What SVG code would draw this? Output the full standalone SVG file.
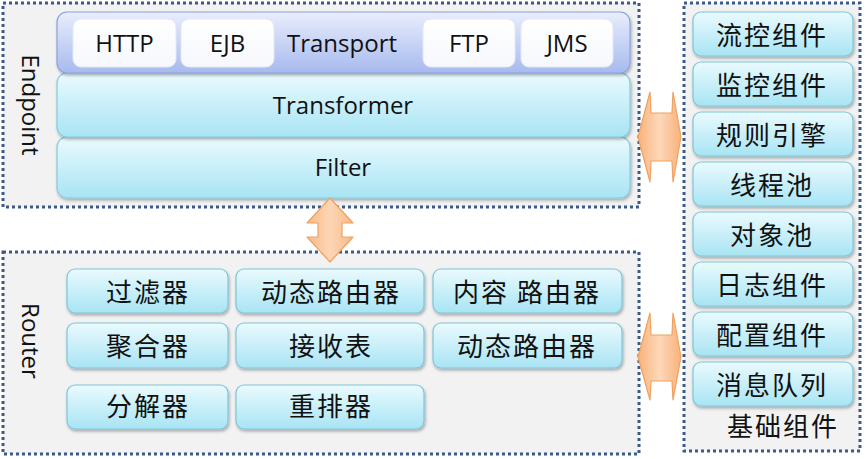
<svg xmlns="http://www.w3.org/2000/svg" width="866" height="459" viewBox="0 0 866 459">
<defs>
<linearGradient id="gCyan" x1="0" y1="0" x2="0" y2="1">
<stop offset="0" stop-color="#eafafe"/>
<stop offset="1" stop-color="#a8e4f4"/>
</linearGradient>
<linearGradient id="gBlue" x1="0" y1="0" x2="0" y2="1">
<stop offset="0" stop-color="#e9eefc"/>
<stop offset="1" stop-color="#a7baee"/>
</linearGradient>
<linearGradient id="gWhite" x1="0" y1="0" x2="0" y2="1">
<stop offset="0" stop-color="#ffffff"/>
<stop offset="1" stop-color="#f6f8fd"/>
</linearGradient>
<linearGradient id="gOrangeH" x1="0" y1="0" x2="1" y2="0">
<stop offset="0" stop-color="#f8b27a"/>
<stop offset="0.5" stop-color="#fdd8ba"/>
<stop offset="1" stop-color="#f8b27a"/>
</linearGradient>
<linearGradient id="gOrangeV" x1="0" y1="0" x2="1" y2="0">
<stop offset="0" stop-color="#f9b985"/>
<stop offset="0.5" stop-color="#fdd6b6"/>
<stop offset="1" stop-color="#f9b985"/>
</linearGradient>
<filter id="sh" x="-10%" y="-20%" width="120%" height="150%">
<feDropShadow dx="1" dy="2" stdDeviation="1.5" flood-color="#000" flood-opacity="0.3"/>
</filter>
</defs>
<style>
.cont{fill:#f2f2f2;stroke:#3b5a8a;stroke-width:3;stroke-dasharray:3 3}
.box{fill:url(#gCyan);stroke:#7fc5d8;stroke-width:1.2;filter:url(#sh)}
.bar{fill:url(#gCyan);stroke:#86cadc;stroke-width:1.2;filter:url(#sh)}
.tbar{fill:url(#gBlue);stroke:#8aa2de;stroke-width:1.2;filter:url(#sh)}
.wbox{fill:url(#gWhite);stroke:#e3e8f6;stroke-width:1}
.en{font-family:"Open Sans","Noto Sans","Liberation Sans",sans-serif;font-size:24px;fill:#111;text-anchor:middle}
.zh{font-family:"Noto Sans CJK SC","Noto Sans",sans-serif;font-size:26px;letter-spacing:2px;fill:#111;text-anchor:middle}
.arr{stroke:#f0a160;stroke-width:1.2;stroke-linejoin:round}
</style>

<g id="endpoint">
<rect class="cont" x="3" y="3" width="636" height="204"/>
<text class="en" transform="translate(30,105) rotate(90)" x="0" y="8.5">Endpoint</text>
<g id="filter">
<rect class="bar" x="57" y="137" width="573" height="61" rx="10"/>
<text class="en" x="343" y="176">Filter</text>
</g>
<g id="transformer">
<rect class="bar" x="57" y="73" width="573" height="64" rx="10"/>
<text class="en" x="343" y="114">Transformer</text>
</g>
<g id="transport">
<rect class="tbar" x="57" y="12" width="573" height="61" rx="10"/>
<text class="en" x="342" y="52">Transport</text>
<g id="http"><rect class="wbox" x="73" y="19" width="103" height="48" rx="8"/><text class="en" x="124.5" y="52">HTTP</text></g>
<g id="ejb"><rect class="wbox" x="181" y="19" width="93" height="48" rx="8"/><text class="en" x="227.5" y="52">EJB</text></g>
<g id="ftp"><rect class="wbox" x="423" y="19" width="92" height="48" rx="8"/><text class="en" x="469" y="52">FTP</text></g>
<g id="jms"><rect class="wbox" x="521" y="19" width="92" height="48" rx="8"/><text class="en" x="567" y="52">JMS</text></g>
</g>
</g>

<g id="router">
<rect class="cont" x="3" y="252" width="636" height="202"/>
<text class="en" transform="translate(30,341) rotate(90)" x="0" y="8.5">Router</text>
<g id="r-guolvqi"><rect class="box" x="67" y="269" width="161" height="44" rx="8"/><text class="zh" x="148" y="302">过滤器</text></g>
<g id="r-dongtai1"><rect class="box" x="236" y="269" width="188" height="44" rx="8"/><text class="zh" x="331" y="302">动态路由器</text></g>
<g id="r-neirong"><rect class="box" x="433" y="269" width="189" height="44" rx="8"/><text class="zh" x="527" y="302">内容 路由器</text></g>
<g id="r-juheqi"><rect class="box" x="67" y="323" width="161" height="45" rx="8"/><text class="zh" x="148" y="356">聚合器</text></g>
<g id="r-jieshoubiao"><rect class="box" x="236" y="323" width="188" height="45" rx="8"/><text class="zh" x="331" y="356">接收表</text></g>
<g id="r-dongtai2"><rect class="box" x="433" y="323" width="189" height="45" rx="8"/><text class="zh" x="527" y="356">动态路由器</text></g>
<g id="r-fenjieqi"><rect class="box" x="67" y="385" width="161" height="44" rx="8"/><text class="zh" x="148" y="416">分解器</text></g>
<g id="r-chongpaiqi"><rect class="box" x="236" y="385" width="188" height="44" rx="8"/><text class="zh" x="331" y="416">重排器</text></g>
</g>

<g id="base">
<rect class="cont" x="684" y="3" width="176" height="448"/>
<g id="b1"><rect class="box" x="693" y="12" width="160" height="44" rx="8"/><text class="zh" x="772" y="45">流控组件</text></g>
<g id="b2"><rect class="box" x="693" y="62" width="160" height="44" rx="8"/><text class="zh" x="772" y="95">监控组件</text></g>
<g id="b3"><rect class="box" x="693" y="112" width="160" height="44" rx="8"/><text class="zh" x="772" y="145">规则引擎</text></g>
<g id="b4"><rect class="box" x="693" y="162" width="160" height="44" rx="8"/><text class="zh" x="772" y="195">线程池</text></g>
<g id="b5"><rect class="box" x="693" y="212" width="160" height="44" rx="8"/><text class="zh" x="772" y="245">对象池</text></g>
<g id="b6"><rect class="box" x="693" y="262" width="160" height="44" rx="8"/><text class="zh" x="772" y="295">日志组件</text></g>
<g id="b7"><rect class="box" x="693" y="312" width="160" height="44" rx="8"/><text class="zh" x="772" y="345">配置组件</text></g>
<g id="b8"><rect class="box" x="693" y="362" width="160" height="44" rx="8"/><text class="zh" x="772" y="395">消息队列</text></g>
<text class="zh" x="783" y="436">基础组件</text>
</g>

<g id="connectors">
<path class="arr" fill="url(#gOrangeV)" d="M330,198 L353,223 L342,223 L342,237 L353,237 L330,262 L307,237 L318,237 L318,223 L307,223 Z"/>
<path class="arr" fill="url(#gOrangeH)" d="M638,137 L650,92 L651,113 L672,113 L673,92 L681,137 L673,182 L672,161 L651,161 L650,182 Z"/>
<path class="arr" fill="url(#gOrangeH)" d="M638,357 L650,313 L651,335 L672,335 L673,313 L681,357 L673,400 L672,381 L651,381 L650,400 Z"/>
</g>
</svg>
